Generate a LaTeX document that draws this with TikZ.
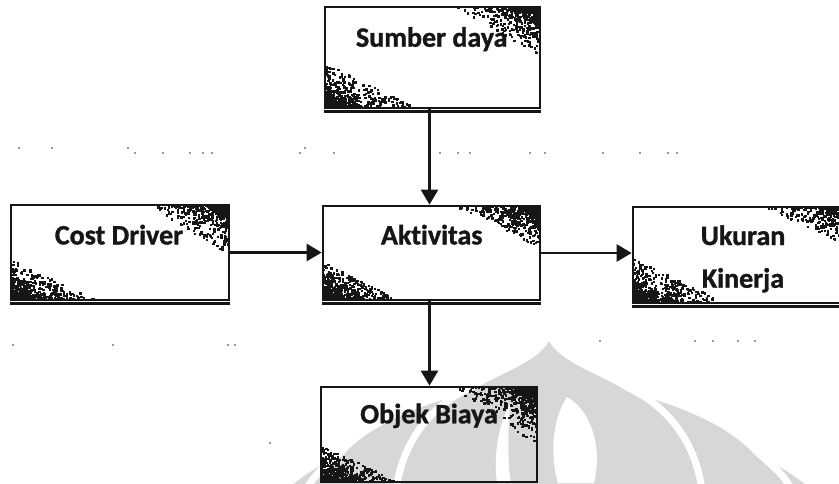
\documentclass[tikz,border=0pt]{standalone}
\usepackage{fontspec}
\setmainfont{Carlito}[RawFeature={-liga;-clig}, BoldFeatures={FakeBold=1.2}]
\usetikzlibrary{arrows.meta}

\definecolor{ink}{HTML}{161616}
\definecolor{logo}{HTML}{D7D7D7}
\definecolor{dust}{HTML}{9A9A9A}

\tikzset{
  box/.style={draw=ink, line width=2.7pt, rectangle, inner sep=0pt},
  lbl/.style={font=\bfseries\fontsize{28}{42}\selectfont, text=ink, inner sep=0pt},
  flow/.style={draw=ink, line width=2.7pt, -{Triangle[width=17pt,length=15pt]}},
  petal/.style={fill=logo, draw=white, line width=7pt, line join=round},
}

% grainy toner patch growing from a box corner
% #1,#2 corner, #3,#4 direction signs, #5 reach along the edge, #6 reach down the side
\newcommand\grain[6]{%
  \foreach \k in {1,...,650}{%
    \pgfmathsetmacro\gT{(0.002+0.998*rnd)^2.0}%
    \pgfmathsetmacro\gW{rnd}%
    \pgfmathsetmacro\gX{#1+#3*\gT*(1-\gW)*#5}%
    \pgfmathsetmacro\gY{#2+#4*\gT*\gW*#6}%
    \fill[ink] (\gX-1.2,\gY-1.2) rectangle ++(2.4,2.4);
  }%
}

\begin{document}
\begin{tikzpicture}[x=1pt,y=-1pt]
\useasboundingbox (0,0) rectangle (839,483);
\clip (0,0) rectangle (839,483);
\fill[white] (0,0) rectangle (839,483);
\pgfmathsetseed{7}

% --- faint emblem in the background ---
% outer petals
\path[petal] (650,483) -- (650,415) .. controls (700,425) and (740,440) .. (760,452)
  .. controls (785,465) and (805,477) .. (818,492) -- cycle;
\path[petal] (448,483) -- (448,415) .. controls (398,425) and (358,440) .. (338,452)
  .. controls (313,465) and (293,477) .. (280,492) -- cycle;
% middle petals
\path[petal] (560,490) -- (560,380) .. controls (640,383) and (725,415) .. (757,452)
  .. controls (772,465) and (785,476) .. (792,490) -- cycle;
\path[petal] (538,490) -- (538,380) .. controls (458,383) and (373,415) .. (341,452)
  .. controls (326,465) and (313,476) .. (306,490) -- cycle;
% central dome
\path[petal] (549,332) .. controls (556,358) and (597,368) .. (627,387)
  .. controls (667,406) and (695,440) .. (702,490) -- (396,490)
  .. controls (403,440) and (431,406) .. (471,387)
  .. controls (501,368) and (542,358) .. (549,332) -- cycle;
% inner cut-outs
\fill[white] (567,397) .. controls (590,410) and (603,445) .. (594,483) -- (558,483)
  .. controls (550,455) and (552,420) .. cycle;
\fill[white] (510,404) .. controls (496,430) and (494,460) .. (497,483) -- (511,483)
  .. controls (507,460) and (508,430) .. cycle;

% --- stray specks ---
\foreach \sx/\sy in {19/148,52/148,128/148,135/153,163/153,190/153,203/153,212/153,
    300/153,305/148,334/153,440/153,458/153,470/153,530/153,545/153,603/153,640/153,
    668/153,677/153,13/345,113/345,228/345,235/345,600/341,695/341,713/341,738/341,
    755/341,270/443}
  \fill[dust] (\sx-0.8,\sy-0.8) rectangle ++(1.6,1.6);

% --- boxes ---
\node[box, minimum width=215pt, minimum height=101pt] (sumber) at (432.5,57.5) {};
\node[box, minimum width=218pt, minimum height=95pt]  (cost)   at (120,252.5) {};
\node[box, minimum width=217pt, minimum height=94pt]  (aktiv)  at (431.5,253) {};
\node[box, minimum width=221pt, minimum height=96pt]  (ukuran) at (743.5,255) {};
\node[box, minimum width=216pt, minimum height=95pt]  (objek)  at (429,434.5) {};

% heavier lower edges
\foreach \b in {sumber,cost,aktiv,ukuran,objek}
  \draw[ink, line width=3pt] ([yshift=-2pt]\b.south west) -- ([yshift=-2pt]\b.south east);

% toner grain in the corners
\grain{540}{7}{-1}{1}{88}{48}
\grain{325}{108}{1}{-1}{92}{45}
\grain{229}{205}{-1}{1}{82}{50}
\grain{11}{300}{1}{-1}{85}{40}
\grain{540}{206}{-1}{1}{85}{42}
\grain{323}{300}{1}{-1}{75}{38}
\grain{854}{207}{-1}{1}{92}{42}
\grain{633}{303}{1}{-1}{92}{45}
\grain{537}{387}{-1}{1}{85}{58}
\grain{321}{482}{1}{-1}{80}{36}

% --- labels ---
\node[lbl, anchor=base] (tsumber) at (431.7,46.7)  {Sumber daya};
\node[lbl, anchor=base] (tcost)   at (119,244.4)   {Cost Driver};
\node[lbl, anchor=base] (taktiv)  at (431.7,244.4) {Aktivitas};
\node[lbl, anchor=base] (tukuran) at (743,245)     {Ukuran};
\node[lbl, anchor=base] (tkinerja) at (743,287.7)  {Kinerja};
\node[lbl, anchor=base] (tobjek)  at (429,423.3)   {Objek Biaya};

% --- connectors ---
\draw[flow] ([xshift=-3pt]sumber.south) -- ([xshift=-3pt]sumber.south |- aktiv.north);
\draw[flow] (cost.east) -- (cost.east -| aktiv.west);
\draw[flow] (aktiv.east) -- (aktiv.east -| ukuran.west);
\draw[flow] ([xshift=-2pt]aktiv.south) -- ([xshift=-2pt]aktiv.south |- objek.north);
\end{tikzpicture}
\end{document}
